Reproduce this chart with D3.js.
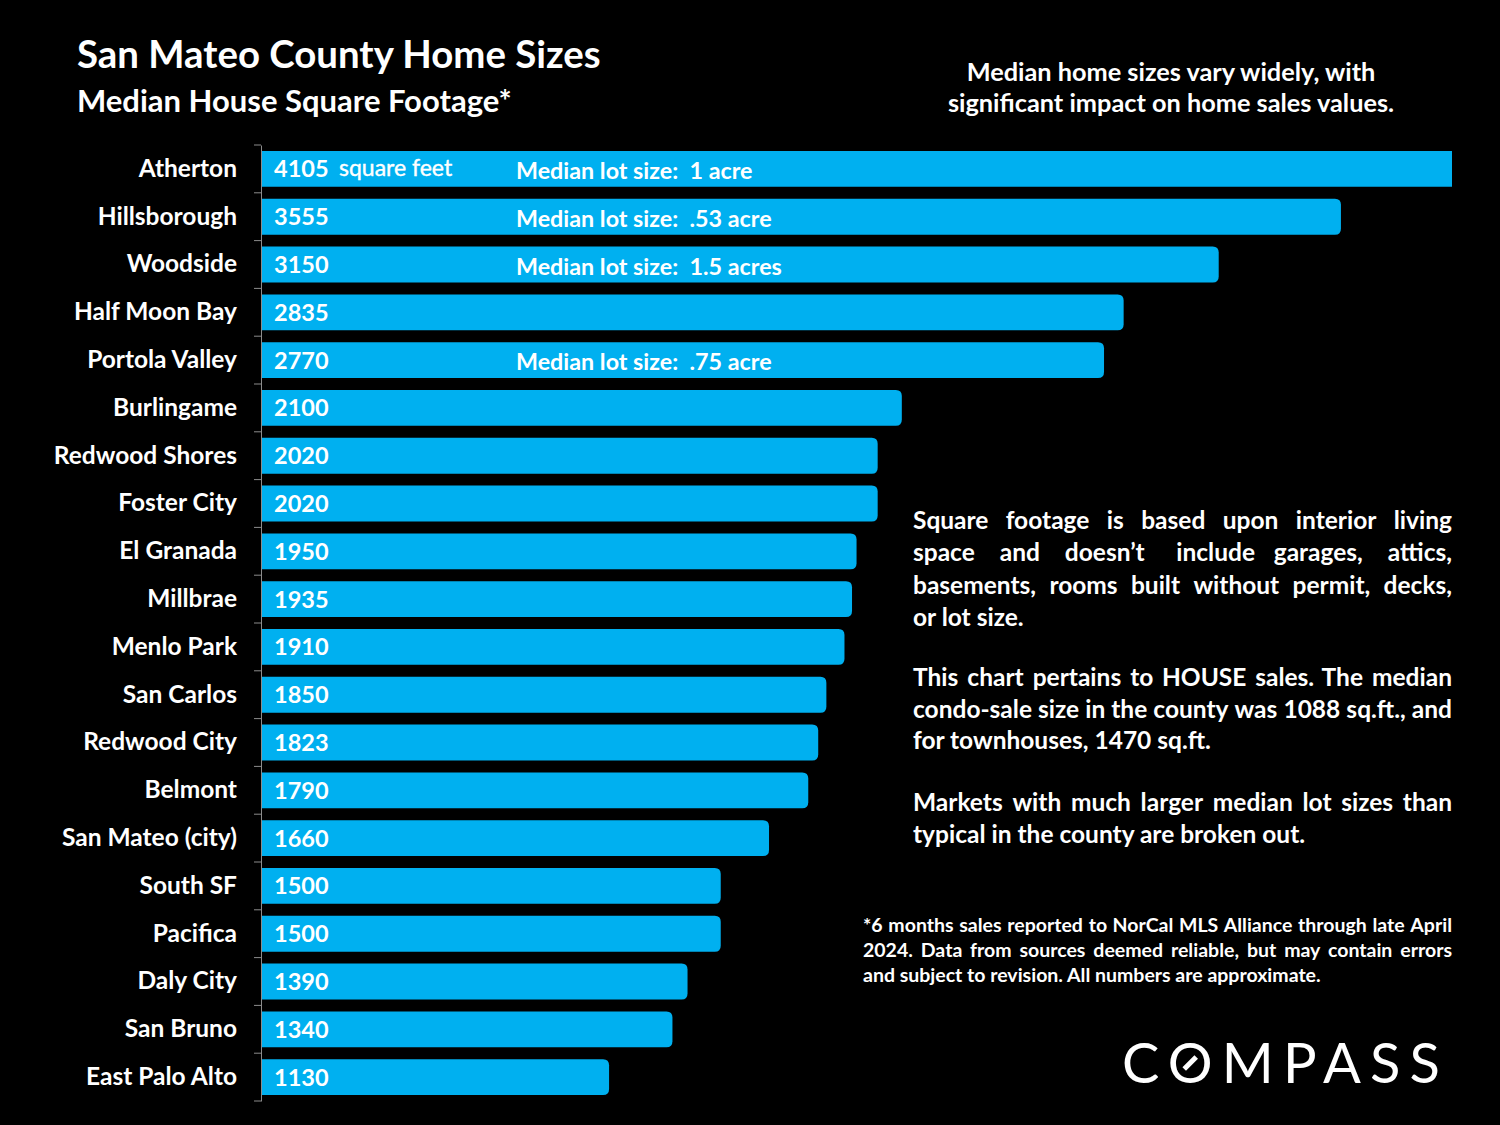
<!DOCTYPE html>
<html>
<head>
<meta charset="utf-8">
<script src="https://cdn.jsdelivr.net/npm/d3@7"></script>
<style>
    body { margin: 0; background: #000; }
    svg { display: block; font-family: Lato, "Open Sans", sans-serif; }
    text { fill: #fff; }
</style>
</head>
<body>
<script type="text/javascript">
// data
var cities = ["Atherton", "Hillsborough", "Woodside", "Half Moon Bay", "Portola Valley",
    "Burlingame", "Redwood Shores", "Foster City", "El Granada", "Millbrae",
    "Menlo Park", "San Carlos", "Redwood City", "Belmont", "San Mateo (city)",
    "South SF", "Pacifica", "Daly City", "San Bruno", "East Palo Alto"];
var sqft = [4105, 3555, 3150, 2835, 2770, 2100, 2020, 2020, 1950, 1935,
    1910, 1850, 1823, 1790, 1660, 1500, 1500, 1390, 1340, 1130];
// median lot size note, only for the markets that are broken out
var lotSizes = ["1 acre", ".53 acre", "1.5 acres", null, ".75 acre", null, null, null, null, null,
    null, null, null, null, null, null, null, null, null, null];

var notes = [
    ["Square footage is based upon interior living",
     "space and doesn\u2019t include garages, attics,",
     "basements, rooms built without permit, decks,",
     "or lot size."],
    ["This chart pertains to HOUSE sales. The median",
     "condo-sale size in the county was 1088 sq.ft., and",
     "for townhouses, 1470 sq.ft."],
    ["Markets with much larger median lot sizes than",
     "typical in the county are broken out."]
];
var footnote = ["*6 months sales reported to NorCal MLS Alliance through late April",
    "2024. Data from sources deemed reliable, but may contain errors",
    "and subject to revision. All numbers are approximate."];

var data = cities.map(function (c, i) {
    return {city: c, value: sqft[i], lot: lotSizes[i]};
});

var W = 1500, H = 1125;
var svg = d3.select("body").append("svg")
    .attr("width", W)
    .attr("height", H);

svg.append("rect").attr("width", W).attr("height", H).attr("fill", "#000");

// titles
svg.append("text")
    .attr("x", 77).attr("y", 68)
    .style("font-size", "38.4px").style("font-weight", 700)
    .text("San Mateo County Home Sizes");
svg.append("text")
    .attr("x", 77).attr("y", 112)
    .style("font-size", "31px").style("font-weight", 700)
    .text("Median House Square Footage*");

svg.selectAll("text.lede")
    .data(["Median home sizes vary widely, with", "significant impact on home sales values."])
    .enter().append("text")
    .attr("class", "lede")
    .attr("x", 1171)
    .attr("y", function (d, i) { return 81 + i * 31; })
    .attr("text-anchor", "middle")
    .style("font-size", "25.3px").style("font-weight", 700)
    .text(function (d) { return d; });

// scales - axis starts a touch below zero, Atherton runs off the edge
var x = d3.scaleLinear().domain([-20, 3923]).range([262, 1452]);
var y = d3.scaleBand().domain(cities).range([145, 1101])
    .paddingInner(0.25).paddingOuter(0.125);

var clip = svg.append("defs").append("clipPath").attr("id", "plotclip");
clip.append("rect").attr("x", 0).attr("y", 0).attr("width", 1452).attr("height", H);

//bars with a rounded right end
function barPath(x0, x1, top, h, r) {
    return "M" + x0 + "," + top +
        "H" + (x1 - r) +
        "Q" + x1 + "," + top + " " + x1 + "," + (top + r) +
        "V" + (top + h - r) +
        "Q" + x1 + "," + (top + h) + " " + (x1 - r) + "," + (top + h) +
        "H" + x0 + "Z";
}

var bars = svg.append("g").attr("clip-path", "url(#plotclip)");
bars.selectAll("path")
    .data(data)
    .enter().append("path")
    .attr("fill", "#00B0F0")
    .attr("d", function (d) {
        return barPath(x.range()[0], x(d.value), y(d.city), y.bandwidth(), 6);
    });

// axis with city names
var axis = svg.append("g")
    .attr("transform", "translate(261,0)")
    .call(d3.axisLeft(y).tickSize(0).tickSizeOuter(0).tickPadding(24));
axis.select(".domain").attr("stroke", "#8c8c8c");
axis.selectAll("text")
    .style("font-family", "Lato, sans-serif")
    .style("font-size", "24.5px")
    .style("font-weight", 700)
    .attr("fill", "#fff");

// small ticks sitting between the categories
var bounds = d3.range(cities.length + 1).map(function (i) {
    return y.range()[0] + i * y.step();
});
svg.append("g").selectAll("line")
    .data(bounds)
    .enter().append("line")
    .attr("x1", 254).attr("x2", 261)
    .attr("y1", function (d) { return d; })
    .attr("y2", function (d) { return d; })
    .attr("stroke", "#8c8c8c");

// value labels inside the bars
var labels = svg.append("g");
labels.selectAll("text.val")
    .data(data)
    .enter().append("text")
    .attr("class", "val")
    .attr("x", 274)
    .attr("y", function (d) { return y(d.city) + y.bandwidth() / 2; })
    .attr("dy", "0.36em")
    .style("font-size", "23.5px").style("font-weight", 700)
    .text(function (d) { return d.value; });

labels.append("text")
    .attr("x", 339)
    .attr("y", y(cities[0]) + y.bandwidth() / 2 - 1)
    .attr("dy", "0.36em")
    .style("font-size", "23px").style("font-weight", 400)
    .style("stroke", "#fff").style("stroke-width", 0.4)
    .text("square feet");

labels.selectAll("text.lot")
    .data(data.filter(function (d) { return d.lot; }))
    .enter().append("text")
    .attr("class", "lot")
    .attr("x", 516)
    .attr("y", function (d) { return y(d.city) + y.bandwidth() / 2 + 2; })
    .attr("dy", "0.36em")
    .style("white-space", "pre")
    .style("font-size", "23.3px").style("font-weight", 700)
    .text(function (d) { return "Median lot size:  " + d.lot; });

// justified block of text, one line at a time
function justify(g, lines, left, right, y0, lh, size) {
    lines.forEach(function (line, i) {
        var t = g.append("text")
            .attr("y", y0 + i * lh)
            .style("font-size", size + "px").style("font-weight", 700);
        var words = line.split(" ");
        if (i === lines.length - 1 || words.length < 2) {
            t.attr("x", left).text(line);
            return;
        }
        var spans = words.map(function (w) { return t.append("tspan").text(w); });
        var widths = spans.map(function (s) { return s.node().getComputedTextLength(); });
        var gap = (right - left - d3.sum(widths)) / (words.length - 1);
        var cx = left;
        spans.forEach(function (s, k) {
            s.attr("x", cx);
            cx += widths[k] + gap;
        });
    });
}

var noteG = svg.append("g");
justify(noteG, notes[0], 913, 1452, 529, 32.3, 24.5);
justify(noteG, notes[1], 913, 1452, 686, 31.5, 24.5);
justify(noteG, notes[2], 913, 1452, 811, 31.5, 24.5);
justify(noteG, footnote, 863, 1452, 932, 25, 19.5);

// logo
var logo = svg.append("text")
    .attr("x", 1122).attr("y", 1083)
    .attr("textLength", 318)
    .attr("lengthAdjust", "spacing")
    .style("font-family", "Lato, sans-serif")
    .style("font-size", "56px")
    .style("font-weight", 400)
    .text("COMPASS");
var ob = logo.node().getExtentOfChar(1);
var ocx = ob.x + ob.width / 2, ocy = 1063;
svg.append("line")
    .attr("x1", ocx - 6).attr("y1", ocy + 6)
    .attr("x2", ocx + 6).attr("y2", ocy - 6)
    .attr("stroke", "#fff").attr("stroke-width", 5);
</script>
</body>
</html>
